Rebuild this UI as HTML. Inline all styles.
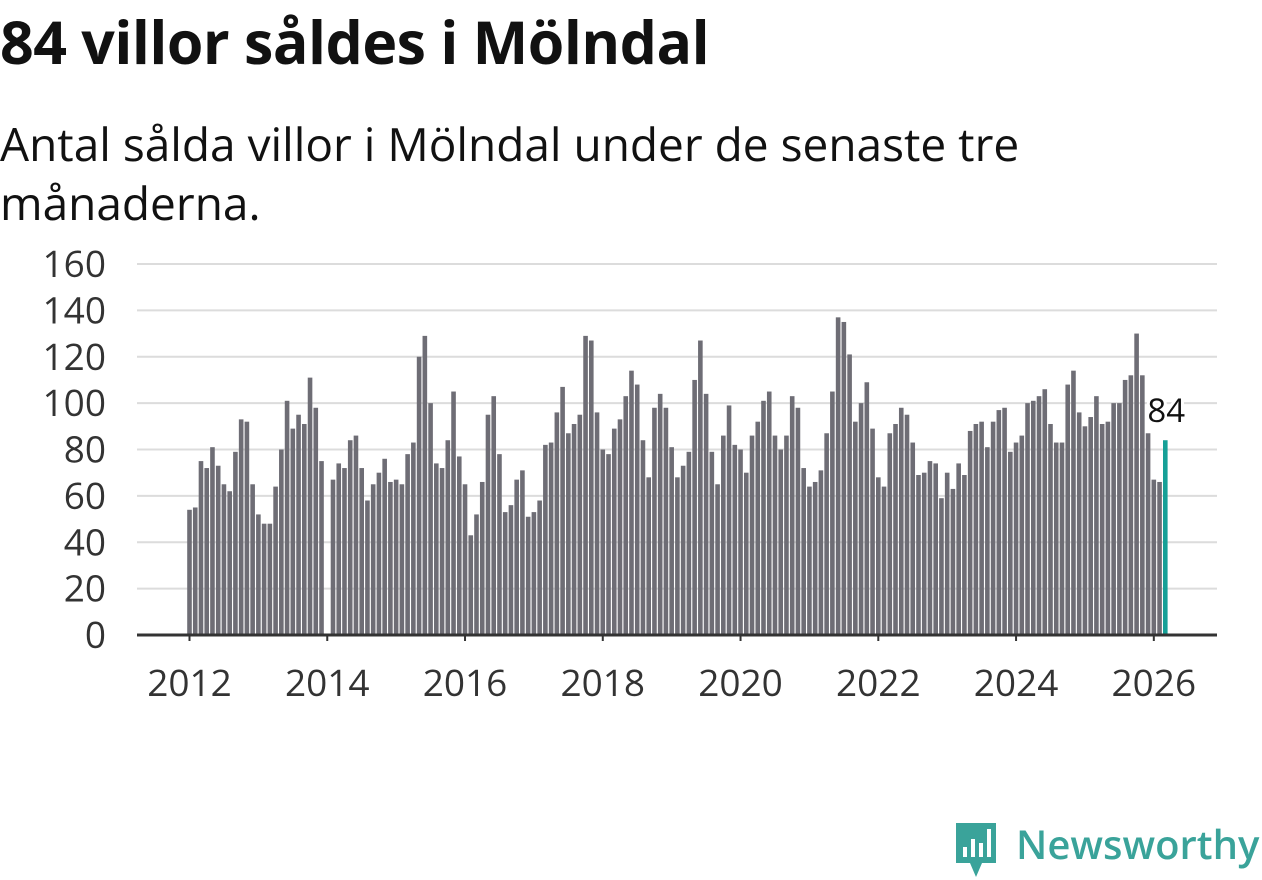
<!DOCTYPE html>
<html><head><meta charset="utf-8"><style>
body{margin:0;background:#fff;width:1262px;height:879px;overflow:hidden;font-family:"Open Sans","Liberation Sans","DejaVu Sans",sans-serif;color:#111}
h1{position:absolute;left:0;top:2px;margin:0;font-size:59px;font-weight:700;letter-spacing:-0.5px;white-space:nowrap}
.sub{position:absolute;left:0;top:115px;margin:0;font-size:46px;line-height:59px;font-weight:400;width:1200px;white-space:nowrap}
</style></head><body>
<h1>84 villor såldes i Mölndal</h1>
<p class="sub">Antal sålda villor i Mölndal under de senaste tre<br>månaderna.</p>
<svg id="chart" width="1262" height="879" style="position:absolute;left:0;top:0"></svg>
<div style="position:absolute;left:952px;top:820px;height:60px;display:flex;align-items:center">
<svg width="48" height="58" viewBox="0 0 48 58"><path d="M4 2h40v40h-14l-6 14-6-14H4z" fill="#3aa39a"/><rect x="11" y="26" width="4" height="10" fill="#fff"/><rect x="19" y="18" width="4" height="18" fill="#fff"/><rect x="27" y="22" width="4" height="14" fill="#fff"/><rect x="35" y="8" width="4" height="28" fill="#fff"/></svg>
<span style="font-size:40px;color:#3aa39a;font-weight:600;margin-left:16px;margin-top:-14px">Newsworthy</span></div>
<script>
const years=[2012,2013,2014,2015,2016,2017,2018,2019,2020,2021,2022,2023,2024,2025,2026];
const values=[54,55,75,72,81,73,65,62,79,93,92,65,
52,48,48,64,80,101,89,95,91,111,98,75,
0,67,74,72,84,86,72,58,65,70,76,66,
67,65,78,83,120,129,100,74,72,84,105,77,
65,43,52,66,95,103,78,53,56,67,71,51,
53,58,82,83,96,107,87,91,95,129,127,96,
80,78,89,93,103,114,108,84,68,98,104,98,
81,68,73,79,110,127,104,79,65,86,99,82,
80,70,86,92,101,105,86,80,86,103,98,72,
64,66,71,87,105,137,135,121,92,100,109,89,
68,64,87,91,98,95,83,69,70,75,74,59,
70,63,74,69,88,91,92,81,92,97,98,79,
83,86,100,101,103,106,91,83,83,108,114,96,
90,94,103,91,92,100,100,110,112,130,112,87,
67,66,84];
const yTicks=[0,20,40,60,80,100,120,140,160];
const xTicks=[2012,2014,2016,2018,2020,2022,2024,2026];
const NS="http://www.w3.org/2000/svg",svg=document.getElementById('chart');
const y=v=>635-v*(371/160);
const x=i=>189.5+i*5.74;
const xYear=yr=>189.5+(yr-2012)*12*5.74;
function mk(t,a){const e=document.createElementNS(NS,t);for(const k in a)e.setAttribute(k,a[k]);svg.appendChild(e);return e;}
yTicks.forEach(t=>{
 if(t>0){const g=mk('line',{x1:137,x2:1217,y1:y(t),y2:y(t),stroke:'#dcdcdc','stroke-width':2});
 
 }
 const l=mk('text',{x:106,y:y(t)+13,'text-anchor':'end','font-size':37,fill:'#333','font-family':'"Open Sans","Liberation Sans",sans-serif'});
 l.textContent=t;
 
 
});
values.forEach((v,i)=>{
 const last=i===values.length-1;
 const r=mk('rect',{x:x(i)-2.3,y:y(v),width:4.6,height:635-y(v),fill:last?'#16a097':'#6e6d75'});
 
 
});
const ax=mk('line',{x1:137,x2:1217,y1:635,y2:635,stroke:'#333','stroke-width':3});


xTicks.forEach(t=>{
 const tk=mk('line',{x1:xYear(t),x2:xYear(t),y1:635,y2:641,stroke:'#333','stroke-width':2});
 
 
 const l=mk('text',{x:xYear(t),y:696,'text-anchor':'middle','font-size':37,fill:'#333','font-family':'"Open Sans","Liberation Sans",sans-serif'});
 l.textContent=t;
 
 
});
const li=values.length-1;
const lab=mk('text',{x:x(li)+1,y:y(values[li])-18,'text-anchor':'middle','font-size':33,fill:'#111',stroke:'#fff','stroke-width':6,'paint-order':'stroke','font-family':'"Open Sans","Liberation Sans",sans-serif'});
lab.textContent=values[li];


</script>
</body></html>
